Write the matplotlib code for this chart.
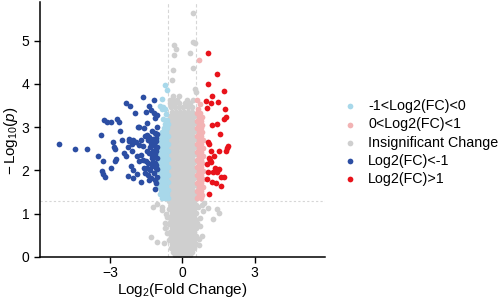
import matplotlib
matplotlib.use("Agg")
import matplotlib.pyplot as plt

plt.rcParams["font.family"] = ["Liberation Sans", "DejaVu Sans"]
plt.rcParams["mathtext.fontset"] = "custom"
plt.rcParams["mathtext.rm"] = "Liberation Sans"
plt.rcParams["mathtext.it"] = "Liberation Sans:italic"

# thresholds
fc_cut = 0.585
p_cut = 1.301

# dense cloud of insignificant genes, one row per -log10(p) level
gray_rows = [
    (0.04, [-0.31, -0.15, 0.01, 0.17, 0.32]),
    (0.12, [-0.39, -0.23, -0.07, 0.09, 0.25, 0.39]),
    (0.21, [-0.47, -0.31, -0.14, 0.02, 0.18, 0.34, 0.48]),
    (0.30, [-0.43, -0.27, -0.10, 0.06, 0.23, 0.40, 0.55]),
    (0.39, [-0.53, -0.36, -0.19, -0.02, 0.15, 0.32, 0.49]),
    (0.48, [-0.45, -0.28, -0.11, 0.08, 0.24, 0.41, 0.57]),
    (0.57, [-0.52, -0.34, -0.18, 0.00, 0.16, 0.33, 0.50]),
    (0.66, [-0.44, -0.27, -0.09, 0.07, 0.25, 0.42, 0.58]),
    (0.75, [-0.54, -0.36, -0.17, -0.01, 0.15, 0.34, 0.51]),
    (0.84, [-0.45, -0.26, -0.10, 0.08, 0.24, 0.40, 0.57]),
    (0.93, [-0.53, -0.35, -0.19, -0.02, 0.17, 0.33, 0.50]),
    (1.02, [-0.44, -0.28, -0.11, 0.06, 0.23, 0.41, 0.56]),
    (1.11, [-0.55, -0.37, -0.18, 0.01, 0.16, 0.32, 0.49]),
    (1.20, [-0.46, -0.26, -0.09, 0.08, 0.25, 0.42, 0.57]),
    (1.29, [-0.53, -0.35, -0.17, -0.01, 0.15, 0.33, 0.50]),
    (1.38, [-0.45, -0.27, -0.10, 0.07, 0.24, 0.41, 0.52]),
    (1.47, [-0.52, -0.35, -0.18, -0.01, 0.16, 0.33, 0.50]),
    (1.56, [-0.44, -0.26, -0.09, 0.08, 0.25, 0.42]),
    (1.65, [-0.53, -0.36, -0.17, 0.00, 0.17, 0.34, 0.51]),
    (1.74, [-0.45, -0.28, -0.11, 0.06, 0.23, 0.40]),
    (1.83, [-0.52, -0.34, -0.18, -0.02, 0.15, 0.33, 0.50]),
    (1.92, [-0.43, -0.27, -0.10, 0.08, 0.25, 0.41]),
    (2.01, [-0.53, -0.35, -0.17, 0.01, 0.17, 0.34, 0.51]),
    (2.10, [-0.44, -0.26, -0.09, 0.07, 0.24, 0.42]),
    (2.19, [-0.52, -0.36, -0.19, -0.01, 0.16, 0.32, 0.50]),
    (2.28, [-0.45, -0.27, -0.11, 0.06, 0.23, 0.41]),
    (2.37, [-0.53, -0.34, -0.18, 0.00, 0.17, 0.33, 0.51]),
    (2.46, [-0.44, -0.28, -0.10, 0.08, 0.25, 0.40]),
    (2.55, [-0.52, -0.35, -0.17, -0.02, 0.15, 0.34, 0.50]),
    (2.64, [-0.43, -0.26, -0.09, 0.07, 0.24, 0.42]),
    (2.73, [-0.53, -0.36, -0.19, 0.01, 0.16, 0.33, 0.51]),
    (2.82, [-0.45, -0.27, -0.11, 0.06, 0.23, 0.41]),
    (2.91, [-0.52, -0.34, -0.18, 0.00, 0.17, 0.32, 0.50]),
    (3.00, [-0.44, -0.28, -0.10, 0.08, 0.25, 0.40]),
    (3.09, [-0.53, -0.35, -0.17, -0.01, 0.15, 0.34, 0.51]),
    (3.18, [-0.45, -0.26, -0.09, 0.07, 0.24, 0.42]),
    (3.27, [-0.52, -0.36, -0.19, 0.02, 0.16, 0.33, 0.49]),
    (3.36, [-0.44, -0.27, -0.11, 0.06, 0.23, 0.41]),
    (3.46, [-0.48, -0.30, -0.12, 0.05, 0.22, 0.40]),
    (3.55, [-0.50, -0.33, -0.15, 0.10, 0.30]),
    (3.64, [-0.51, -0.40, -0.20, 0.18, 0.43]),
    (3.72, [-0.40, -0.12]),
]

# scattered insignificant genes
gray_x = [-1.31, -1.04, -0.75, -1.20, -0.85, -1.04, -0.72, -0.83, -0.65, -0.68, -0.70, -0.62,
          0.80, 1.08, 1.45, 1.29, 1.53, 0.73, 0.80, 0.73, 0.87, 0.68, 0.70, 0.62, 0.92, 0.66,
          0.46, 0.46, 0.52, -0.35, -0.26, -0.35, 0.32, -0.40, 0.43, -0.44, 0.52, 0.55]
gray_y = [0.45, 0.33, 0.31, 1.16, 1.09, 1.23, 0.78, 1.16, 0.54, 1.00, 0.66, 0.92,
          0.47, 1.13, 1.11, 0.87, 1.02, 0.70, 1.20, 0.89, 1.05, 0.28, 0.40, 0.78, 1.25, 1.15,
          5.64, 4.98, 4.95, 4.90, 4.81, 4.67, 4.71, 4.33, 4.38, 4.09, 3.89, 3.82]

# -1 < log2FC < 0 (significant)
lblue_rows = [
    (1.36, [-0.86, -0.72, -0.61]),
    (1.45, [-0.92, -0.77, -0.62]),
    (1.54, [-0.87, -0.73, -0.60]),
    (1.63, [-0.96, -0.81, -0.66]),
    (1.72, [-0.90, -0.75, -0.61]),
    (1.81, [-0.97, -0.82, -0.67]),
    (1.90, [-0.89, -0.74, -0.60]),
    (1.99, [-0.96, -0.81, -0.66]),
    (2.08, [-0.90, -0.75, -0.61]),
    (2.17, [-0.97, -0.83, -0.67]),
    (2.26, [-0.89, -0.74, -0.60]),
    (2.35, [-0.96, -0.82, -0.66]),
    (2.44, [-0.91, -0.76, -0.61]),
    (2.53, [-0.97, -0.81, -0.67]),
    (2.62, [-0.89, -0.75, -0.60]),
    (2.71, [-0.95, -0.82, -0.66]),
    (2.80, [-0.90, -0.74, -0.61]),
    (2.89, [-0.84, -0.68]),
    (2.98, [-0.75, -0.62]),
    (3.07, [-0.70, -0.61]),
]
lblue_x = [-0.72, -0.62, -0.86, -0.93, -0.79, -0.86, -0.72, -0.66, -0.78, -0.65]
lblue_y = [3.97, 3.85, 3.66, 3.50, 3.47, 3.41, 3.43, 3.30, 3.20, 3.17]

# 0 < log2FC < 1 (significant)
pink_rows = [
    (1.35, [0.63, 0.76]),
    (1.44, [0.69, 0.80]),
    (1.53, [0.62, 0.77]),
    (1.62, [0.70, 0.84]),
    (1.71, [0.62, 0.76]),
    (1.80, [0.69, 0.84]),
    (1.89, [0.63, 0.77]),
    (1.98, [0.70, 0.85]),
    (2.07, [0.62, 0.76]),
    (2.16, [0.69, 0.83]),
    (2.25, [0.63, 0.78]),
    (2.34, [0.70, 0.84]),
    (2.43, [0.62, 0.76]),
    (2.52, [0.69, 0.85]),
    (2.61, [0.63, 0.77]),
    (2.70, [0.70, 0.84]),
    (2.79, [0.62, 0.76]),
    (2.88, [0.69, 0.83]),
    (2.97, [0.63, 0.78]),
    (3.06, [0.70, 0.82]),
    (3.15, [0.62, 0.76]),
    (3.24, [0.69, 0.80]),
    (3.33, [0.62, 0.74]),
    (3.42, [0.66]),
]
pink_x = [0.69, 0.60, 0.73]
pink_y = [4.56, 3.64, 3.53]

# log2FC < -1
dblue_x = [-5.12, -4.43, -3.93, -3.51, -3.37, -3.28, -3.32, -3.28, -3.19, -2.97,
           -2.89, -2.83, -2.80, -2.76, -2.80, -3.25, -3.11, -2.97, -2.70, -2.64,
           -2.48, -2.42, -2.35, -2.34, -2.17, -1.96, -2.24, -2.20, -2.24, -2.10,
           -2.13, -2.03, -1.89, -1.87, -1.78, -1.69, -1.62, -1.16, -1.37, -1.85,
           -1.59, -1.48, -1.18, -1.12, -1.05, -1.55, -1.47, -1.37, -1.31, -1.62,
           -1.69, -1.62, -1.52, -1.41, -1.27, -1.20, -1.13, -1.07, -1.23, -1.13,
           -1.48, -1.37, -1.55, -1.48, -1.41, -1.18, -1.09, -1.07, -1.12, -2.59,
           -2.07, -1.78, -1.27, -1.07, -1.04, -1.04, -1.13, -1.26, -1.05, -1.15,
           -1.30, -1.72, -1.35, -1.22, -1.10, -1.04, -1.30, -1.05, -1.42, -1.25,
           -1.15, -1.06, -1.60, -1.32, -1.20, -2.03, -1.37, -1.09, -1.92, -2.03,
           -2.20, -1.51, -1.78]
dblue_y = [2.61, 2.50, 2.49, 2.34, 2.81, 2.22, 1.98, 1.92, 1.84, 2.06,
           2.65, 2.55, 2.49, 2.26, 2.21, 3.16, 3.11, 3.11, 3.20, 3.11,
           2.71, 2.40, 2.33, 3.56, 3.49, 3.33, 2.54, 2.73, 1.87, 2.44,
           2.09, 2.00, 1.92, 2.33, 2.58, 2.71, 3.71, 3.63, 3.49, 3.00,
           2.98, 3.10, 3.33, 3.22, 3.29, 2.79, 2.81, 2.78, 2.64, 2.56,
           2.36, 2.25, 2.21, 2.17, 2.29, 2.44, 2.56, 2.67, 2.73, 2.87,
           2.44, 2.40, 1.94, 2.05, 1.90, 1.94, 2.05, 2.13, 1.57, 2.91,
           2.62, 2.21, 2.91, 2.44, 2.29, 2.02, 2.17, 2.09, 1.85, 1.78,
           1.83, 1.72, 2.55, 2.60, 2.75, 2.85, 3.40, 3.00, 2.70, 2.35,
           2.38, 2.55, 2.05, 2.00, 2.20, 1.82, 1.78, 1.71, 2.66, 2.71,
           2.69, 3.36, 3.00]

# log2FC > 1
red_x = [1.08, 1.44, 1.05, 1.74, 0.98, 1.22, 1.18, 1.49, 1.04, 1.78, 1.81, 1.73,
         1.42, 1.24, 1.56, 1.05, 1.12, 1.88, 1.81, 1.54, 1.19, 1.11, 1.18, 1.01,
         1.36, 1.52, 1.42, 1.29, 1.08, 1.01, 1.24, 1.40, 1.59, 1.73, 1.60, 1.09,
         1.33, 1.15, 1.85]
red_y = [4.71, 4.22, 4.00, 3.83, 3.60, 3.72, 3.57, 3.58, 3.44, 3.41, 3.24, 3.20,
         3.08, 3.04, 2.84, 2.65, 2.61, 2.56, 2.44, 2.44, 2.44, 2.29, 2.19, 2.15,
         2.05, 2.03, 1.96, 1.95, 1.96, 1.81, 1.74, 1.71, 1.84, 1.84, 1.63, 1.46,
         2.34, 2.25, 2.52]

labels = ["-1<Log2(FC)<0", "0<Log2(FC)<1", "Insignificant Change", "Log2(FC)<-1", "Log2(FC)>1"]
colors = ["#A8D8EA", "#F2B3B4", "#CFCFCF", "#2C4EA3", "#E8131B"]


def unpack(rows, extra_x, extra_y):
    xs, ys = [], []
    for y, row in rows:
        xs += row
        ys += [y] * len(row)
    return xs + extra_x, ys + extra_y


groups = [
    unpack(lblue_rows, lblue_x, lblue_y),
    unpack(pink_rows, pink_x, pink_y),
    unpack(gray_rows, gray_x, gray_y),
    (dblue_x, dblue_y),
    (red_x, red_y),
]

fig = plt.figure(figsize=(4.98, 2.99), dpi=100)
ax = fig.add_axes([0.080, 0.1415, 0.572, 0.852])

dot = 17
handles = {}
for i in (2, 0, 1, 3, 4):
    xs, ys = groups[i]
    handles[i] = ax.scatter(xs, ys, s=dot, c=colors[i], linewidths=0, label=labels[i],
                            zorder=2 if i == 2 else 3)
handles = [handles[i] for i in range(5)]

ax.axvline(-fc_cut, color="#d6d6d6", lw=0.8, ls=(0, (3, 2)), zorder=1)
ax.axvline(fc_cut, color="#d6d6d6", lw=0.8, ls=(0, (3, 2)), zorder=1)
ax.axhline(p_cut, color="#d6d6d6", lw=0.8, ls=(0, (2, 2)), zorder=1)

ax.set_xlim(-5.9, 5.9)
ax.set_ylim(0, 5.9)
ax.set_xticks([-3, 0, 3])
ax.set_yticks([0, 1, 2, 3, 4, 5])
for s in ("top", "right"):
    ax.spines[s].set_visible(False)
for s in ("left", "bottom"):
    ax.spines[s].set_linewidth(1.1)
ax.tick_params(labelsize=10, length=4, width=1, colors="black")
ax.tick_params(axis="x", pad=2.5)

ax.set_xlabel("Log$_2$(Fold Change)", fontsize=11)
ax.xaxis.set_label_coords(0.5, -0.095)
ax.set_ylabel(r"$-\,\mathrm{Log}_{10}(\mathit{p})$", fontsize=11)
ax.yaxis.set_label_coords(-0.068, 0.454)

fig.legend(handles=handles, loc="upper left", bbox_to_anchor=(0.683, 0.688), frameon=False,
           fontsize=10.3, handlelength=0.6, handletextpad=0.95, labelspacing=0.3,
           markerscale=1.0, borderaxespad=0)

fig.savefig("out.png", dpi=100)
